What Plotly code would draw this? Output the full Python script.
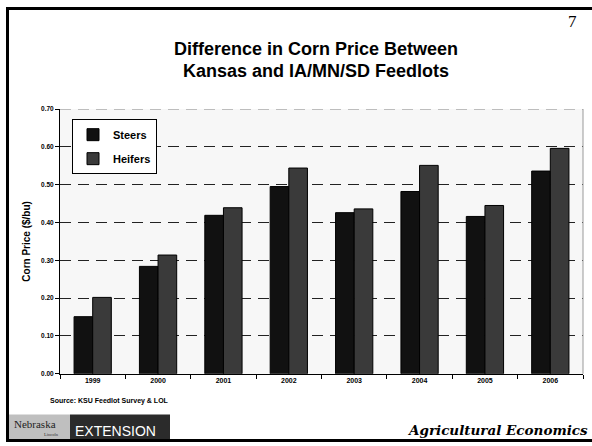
import plotly.graph_objects as go

years = ["1999", "2000", "2001", "2002", "2003", "2004", "2005", "2006"]
steers = [0.151, 0.284, 0.419, 0.495, 0.426, 0.482, 0.416, 0.536]
heifers = [0.202, 0.314, 0.439, 0.544, 0.436, 0.551, 0.445, 0.596]
y_ticks = [0.0, 0.1, 0.2, 0.3, 0.4, 0.5, 0.6, 0.7]

W, H = 592, 446
def px(x): return x / W
def py(y): return 1 - y / H

fig = go.Figure()
fig.add_trace(go.Bar(x=years, y=steers, name="Steers", legendgroup="s",
                     marker=dict(color="#111111", line=dict(color="#000000", width=1))))
fig.add_trace(go.Bar(x=years, y=heifers, name="Heifers", legendgroup="h",
                     marker=dict(color="#3a3a3a", line=dict(color="#000000", width=1))))

fig.update_layout(
    width=W, height=H,
    margin=dict(l=0, r=0, t=0, b=0),
    paper_bgcolor="white",
    plot_bgcolor="#f7f7f7",
    barmode="group",
    bargap=0.43,
    bargroupgap=0,
    font=dict(family="Liberation Sans", color="#000000"),
    xaxis=dict(domain=[px(60), px(583)], showgrid=False, ticks="outside", tickson="boundaries",
               ticklen=4, tickcolor="#000", showline=True, linecolor="#000", linewidth=1,
               tickfont=dict(family="Liberation Sans", size=7, color="#000", weight="bold"),
               fixedrange=True),
    yaxis=dict(domain=[py(375.7), py(106.7)], range=[0, 0.7], tickvals=y_ticks,
               ticktext=[f"{v:.2f}" for v in y_ticks],
               ticks="outside", ticklen=4, tickcolor="#000", showline=True, linecolor="#000",
               linewidth=1, showgrid=True, gridcolor="#222", griddash="11px,7px", gridwidth=1,
               zeroline=False,
               tickfont=dict(family="Liberation Sans", size=6.5, color="#000", weight="bold"),
               title=dict(text="Corn Price ($/bu)", standoff=8,
                          font=dict(family="Liberation Sans", size=10, color="#000", weight="bold"))),
    legend=dict(x=px(72), y=py(117), xanchor="left", yanchor="top",
                bgcolor="white", bordercolor="#000", borderwidth=1,
                font=dict(family="Liberation Sans", size=11, color="#000", weight="bold"),
                traceorder="grouped", tracegroupgap=5, itemwidth=30),
    showlegend=True,
)

shapes = [
    # top gridline at 0.70
    dict(type="line", xref="x domain", yref="y", x0=0, x1=1, y0=0.7, y1=0.7,
         line=dict(color="#888", width=1, dash="11px,7px")),
    # plot right border (gray)
    dict(type="line", xref="paper", yref="paper", x0=px(583), x1=px(583), y0=py(375.7), y1=py(106.7),
         line=dict(color="#999", width=1)),
    # slide border
    dict(type="line", xref="paper", yref="paper", x0=px(7), x1=1, y0=py(4.5), y1=py(4.5),
         line=dict(color="#000", width=3)),
    dict(type="line", xref="paper", yref="paper", x0=px(7.5), x1=px(7.5), y0=py(3), y1=py(444),
         line=dict(color="#000", width=3)),
    dict(type="line", xref="paper", yref="paper", x0=px(6), x1=1, y0=py(443.5), y1=py(443.5),
         line=dict(color="#000", width=3)),
    # footer boxes
    dict(type="rect", xref="paper", yref="paper", x0=px(9), x1=px(70), y0=py(442), y1=py(417),
         fillcolor="#bfbfbf", line=dict(width=0), layer="above"),
    dict(type="rect", xref="paper", yref="paper", x0=px(70), x1=px(170), y0=py(442), y1=py(417),
         fillcolor="#2b2b2b", line=dict(width=0), layer="above"),
]
fig.update_layout(shapes=shapes)

ann = [
    dict(text="Difference in Corn Price Between", x=px(316), y=py(46),
         font=dict(family="Liberation Sans", size=18, color="#000", weight="bold")),
    dict(text="Kansas and IA/MN/SD Feedlots", x=px(316), y=py(68),
         font=dict(family="Liberation Sans", size=18, color="#000", weight="bold")),
    dict(text="7", x=px(572), y=py(18),
         font=dict(family="Liberation Serif", size=17, color="#000")),
    dict(text="Source: KSU Feedlot Survey & LOL", x=px(48), y=py(403), xanchor="left",
         font=dict(family="Liberation Sans", size=7, color="#000", weight="bold")),
    dict(text="Nebraska", x=px(12), y=py(427), xanchor="left",
         font=dict(family="Liberation Serif", size=11, color="#222")),
    dict(text="Lincoln", x=px(42), y=py(437), xanchor="left",
         font=dict(family="Liberation Serif", size=4.5, color="#333")),
    dict(text="EXTENSION", x=px(73), y=py(434), xanchor="left",
         font=dict(family="Liberation Sans Narrow, Liberation Sans", size=14, color="#ffffff")),
    dict(text="<b><i>Agricultural Economics</i></b>", x=px(590), y=py(433), xanchor="right",
         font=dict(family="DejaVu Serif", size=13.5, color="#000")),
]
for a in ann:
    a.setdefault("xanchor", "center")
    a.update(xref="paper", yref="paper", yanchor="middle", showarrow=False)
fig.update_layout(annotations=ann)

fig.write_html("out.html")
